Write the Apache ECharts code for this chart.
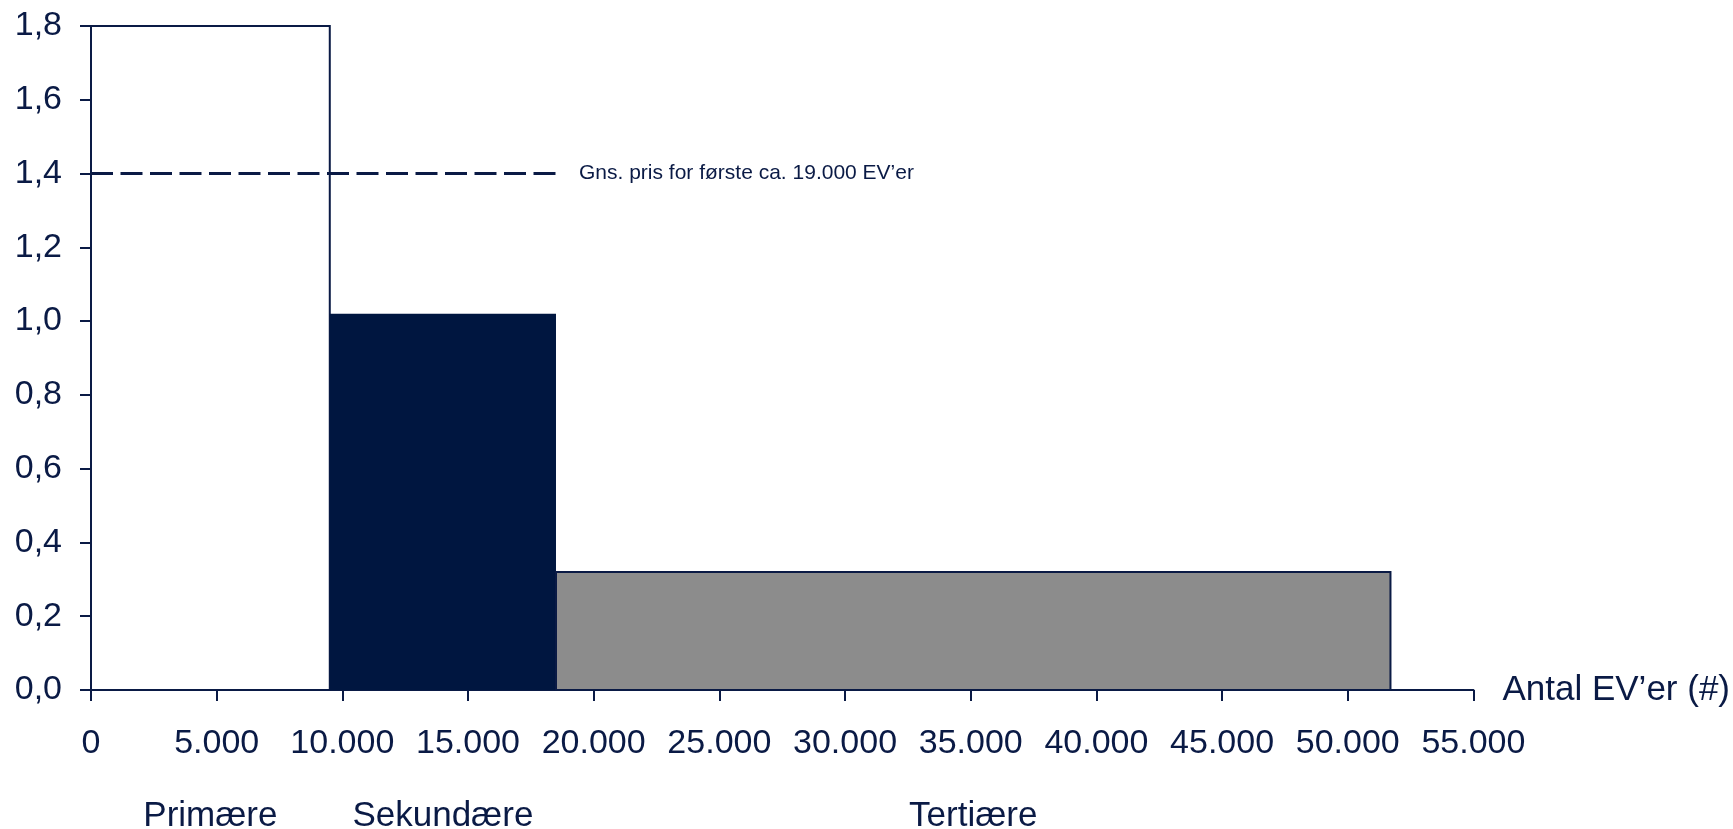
<!DOCTYPE html>
<html>
<head>
<meta charset="utf-8">
<script src="https://cdn.jsdelivr.net/npm/echarts@6/dist/echarts.min.js"></script>
<style>
  html, body { margin: 0; padding: 0; background: #fff; }
  #main { width: 1733px; height: 829px; }
</style>
</head>
<body>
<div id="main"></div>
<script>
var navy = '#0a1a45';

// segments: start / end in number of EVs, price level
var categories = ['Primære', 'Sekundære', 'Tertiære'];
var segStart = [0, 9500, 18500];
var segEnd = [9500, 18500, 51700];
var segValue = [1.8, 1.02, 0.32];
var segColor = ['#ffffff', '#001640', '#8c8c8c'];
var segBorder = [2, 0, 2];

var avgLine = [[0, 1.4], [18500, 1.4]];
var avgLabel = 'Gns. pris for første ca. 19.000 EV\u2019er';

var dom = document.getElementById('main');
var myChart = echarts.init(dom);

var segData = categories.map(function (c, i) {
    return [segStart[i], segEnd[i], segValue[i], i];
});

option = {
    animation: false,
    textStyle: { fontFamily: 'Arial, "Liberation Sans", sans-serif', color: navy },
    grid: { left: 91, right: 257, top: 26, bottom: 139 },
    xAxis: {
        type: 'value',
        min: 0,
        max: 55000,
        interval: 5000,
        name: 'Antal EV\u2019er (#)',
        nameLocation: 'end',
        nameGap: 29,
        nameTextStyle: { fontSize: 35, color: navy },
        splitLine: { show: false },
        axisLine: { lineStyle: { color: navy, width: 2 } },
        axisTick: { show: true, length: 11, lineStyle: { color: navy, width: 2 } },
        axisLabel: {
            fontSize: 34,
            color: navy,
            margin: 37,
            formatter: function (v) {
                return String(v).replace(/\B(?=(\d{3})+(?!\d))/g, '.');
            }
        }
    },
    yAxis: {
        type: 'value',
        min: 0,
        max: 1.8,
        interval: 0.2,
        splitLine: { show: false },
        axisLine: { show: true, lineStyle: { color: navy, width: 2 } },
        axisTick: { show: true, length: 11, lineStyle: { color: navy, width: 2 } },
        axisLabel: {
            fontSize: 34,
            color: navy,
            margin: 29,
            padding: [6, 0, 0, 0],
            formatter: function (v) { return v.toFixed(1).replace('.', ','); }
        }
    },
    series: [
        {
            type: 'custom',
            data: segData,
            renderItem: function (params, api) {
                var i = api.value(3);
                var p0 = api.coord([api.value(0), 0]);
                var p1 = api.coord([api.value(1), api.value(2)]);
                var bw = segBorder[i];
                return {
                    type: 'group',
                    children: [
                        {
                            type: 'rect',
                            shape: { x: p0[0], y: p1[1], width: p1[0] - p0[0], height: p0[1] - p1[1] },
                            style: { fill: segColor[i], stroke: bw ? navy : null, lineWidth: bw }
                        },
                        {
                            type: 'text',
                            style: {
                                x: (p0[0] + p1[0]) / 2,
                                y: p0[1] + 126,
                                text: categories[i],
                                fill: navy,
                                font: '35px Arial, "Liberation Sans", sans-serif',
                                align: 'center',
                                verticalAlign: 'middle'
                            }
                        }
                    ]
                };
            },
            z: 2
        },
        {
            type: 'line',
            data: avgLine,
            symbol: 'none',
            lineStyle: { color: navy, width: 3, type: [22, 7.5] },
            endLabel: {
                show: true,
                formatter: avgLabel,
                distance: 23,
                fontSize: 21,
                color: navy
            },
            z: 3
        }
    ]
};

if (option && typeof option === 'object') {
    myChart.setOption(option, true);
}

window.addEventListener('resize', function () {
    myChart.resize();
});
</script>
</body>
</html>
